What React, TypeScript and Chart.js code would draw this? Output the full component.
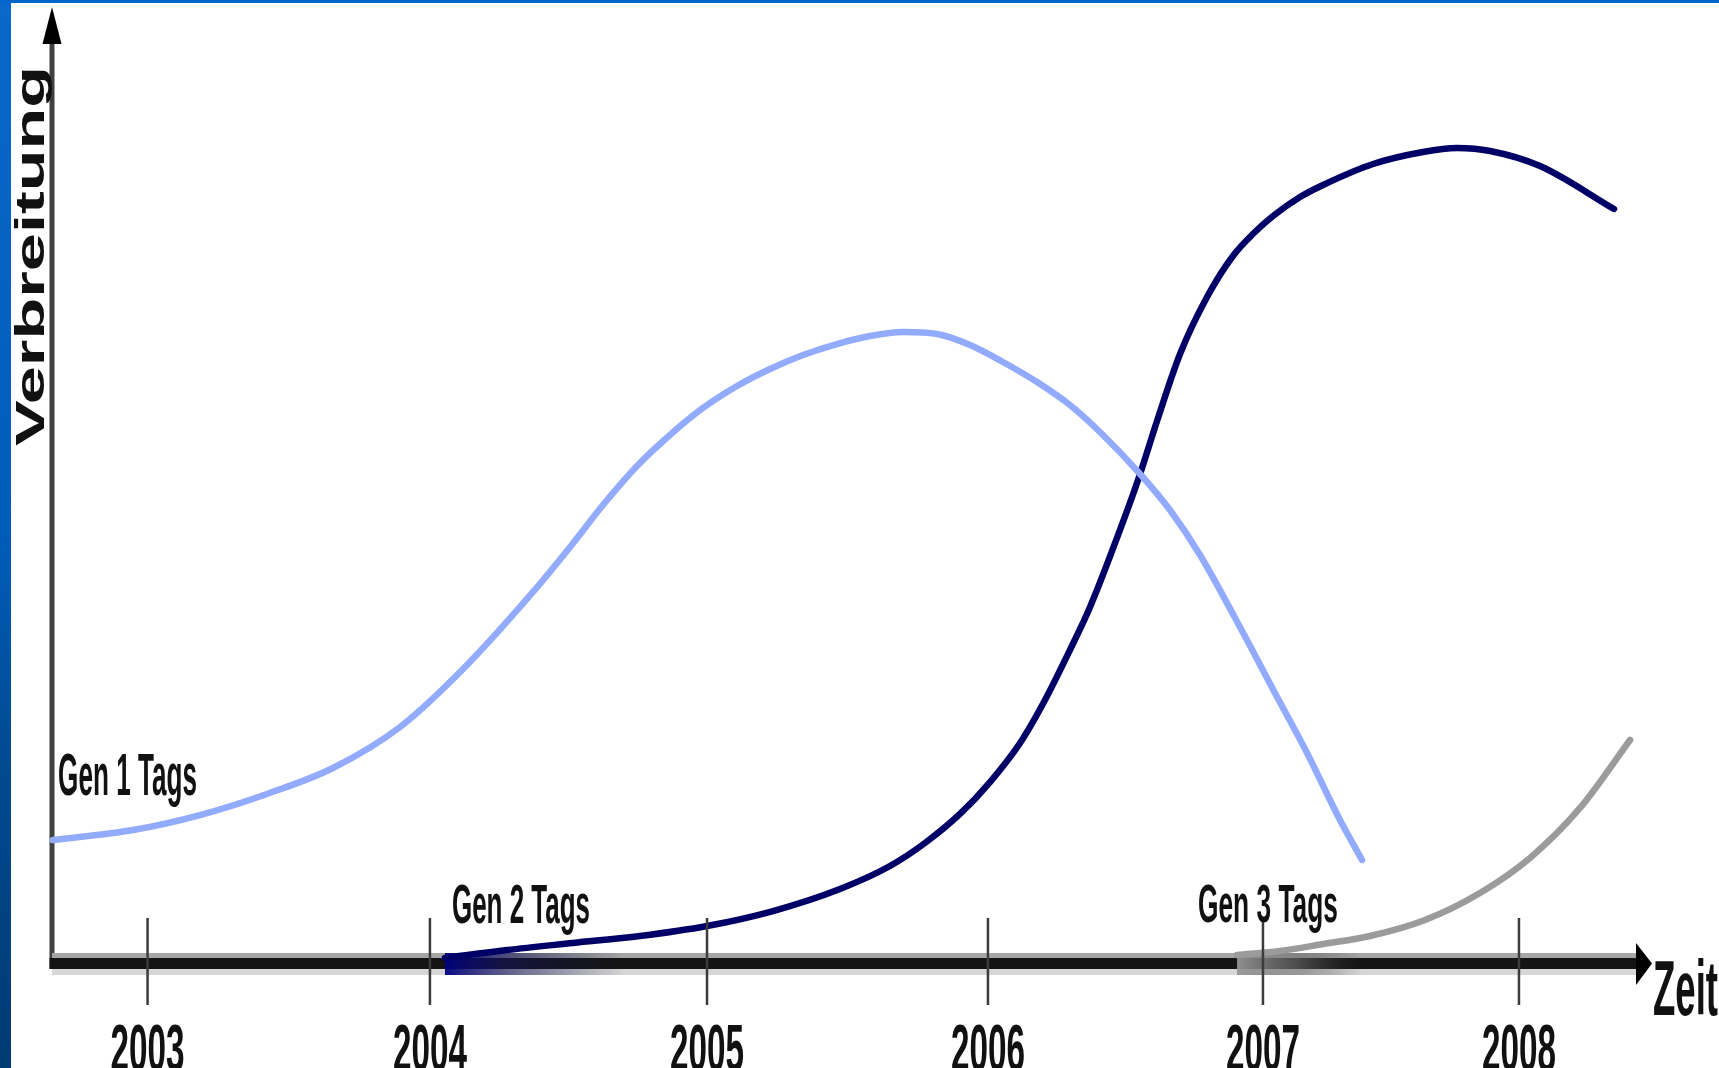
import { useEffect, useRef } from 'react';
import { Chart, registerables } from 'chart.js';

Chart.register(...registerables);

const W = 1719;
const H = 1068;

// x: position along the "Zeit" axis (0 = Verbreitung axis, 100 = arrow tip)
// y: "Verbreitung" (0 = time axis, 100 = arrow tip)
const gen1X = [0.06, 5.07, 9.26, 13.45, 17.58, 21.78, 25.97, 30.1, 32.42, 34.48, 36.61, 38.67, 40.74, 42.87, 44.93, 47.0, 49.12, 51.19, 53.25, 55.38, 57.45, 59.51, 61.64, 63.7, 65.58, 68.09, 69.96, 71.84, 74.34, 76.53, 78.54, 80.6, 81.98];
const gen1Y = [12.89, 13.94, 15.51, 17.72, 20.44, 24.74, 31.24, 38.89, 43.61, 48.01, 52.1, 55.35, 58.18, 60.48, 62.26, 63.73, 64.88, 65.72, 66.14, 65.93, 64.78, 63.0, 60.9, 58.49, 55.66, 51.26, 47.48, 42.77, 35.22, 28.3, 22.01, 14.99, 10.8];

const gen2X = [24.59, 28.47, 32.6, 36.8, 40.99, 45.12, 49.31, 52.44, 54.63, 56.82, 58.7, 60.58, 62.14, 63.7, 64.96, 67.02, 68.09, 69.15, 70.59, 72.28, 73.9, 75.28, 76.41, 78.1, 79.54, 82.67, 85.79, 87.92, 89.99, 93.12, 97.75];
const gen2Y = [0.52, 1.36, 2.1, 2.83, 3.88, 5.45, 7.76, 10.17, 12.58, 15.62, 18.97, 23.06, 27.57, 32.81, 37.32, 46.23, 51.26, 56.81, 63.84, 69.81, 74.11, 76.62, 78.3, 80.29, 81.55, 83.75, 85.01, 85.43, 85.12, 83.54, 79.04];

const gen3X = [74.16, 76.85, 79.54, 82.48, 85.92, 89.36, 92.49, 95.62, 98.75];
const gen3Y = [0.84, 1.26, 1.99, 2.83, 4.51, 7.34, 11.01, 16.25, 23.38];

const yearLabels = ['2003', '2004', '2005', '2006', '2007', '2008'];
const yearTickX = [5.98, 23.65, 40.99, 58.57, 75.78, 91.8];

const seriesNames = ['Gen 1 Tags', 'Gen 2 Tags', 'Gen 3 Tags'];
const seriesNameX = [0.38, 25.03, 71.71];
const seriesNameY = [17.6, 4.19, 4.3];

const xTitle = 'Zeit';
const yTitle = 'Verbreitung';

const FONT = "'Liberation Sans', Arial, sans-serif";

function fitText(
  ctx: CanvasRenderingContext2D,
  text: string,
  x: number,
  y: number,
  size: number,
  width: number,
  align: CanvasTextAlign,
  weight = 'bold'
) {
  ctx.save();
  ctx.font = `${weight} ${size}px ${FONT}`;
  const w = ctx.measureText(text).width;
  ctx.translate(x, y);
  ctx.scale(width / w, 1);
  ctx.textAlign = align;
  ctx.textBaseline = 'alphabetic';
  ctx.fillStyle = '#111';
  ctx.fillText(text, 0, 0);
  ctx.restore();
}

const toPts = (xs: number[], ys: number[]) => xs.map((v, i) => ({ x: v, y: ys[i] }));

const decor = {
  id: 'decor',
  beforeDraw(chart: any) {
    const ctx: CanvasRenderingContext2D = chart.ctx;
    ctx.save();
    ctx.fillStyle = '#ffffff';
    ctx.fillRect(0, 0, W, H);
    const g = ctx.createLinearGradient(0, 0, 0, H);
    g.addColorStop(0, '#0a68cc');
    g.addColorStop(0.5, '#005cb8');
    g.addColorStop(0.72, '#004a90');
    g.addColorStop(1, '#003a72');
    ctx.fillStyle = g;
    ctx.fillRect(0, 0, 11, H);
    ctx.fillStyle = '#0066cc';
    ctx.fillRect(0, 0, W, 3);
    ctx.restore();
  },
  beforeDatasetsDraw(chart: any) {
    const ctx: CanvasRenderingContext2D = chart.ctx;
    const { x, y } = chart.scales;
    const x0 = x.getPixelForValue(0);
    const y0 = y.getPixelForValue(0);
    const yTop = y.getPixelForValue(100);
    const xEnd = x.getPixelForValue(100) - 14;
    ctx.save();
    // vertical axis
    ctx.fillStyle = '#404040';
    ctx.fillRect(x0 - 2.5, yTop + 30, 5, y0 + 6 - (yTop + 30));
    // horizontal axis with its shading bands
    ctx.fillStyle = '#a6a6a6';
    ctx.fillRect(x0, y0 - 10, xEnd - x0, 5);
    ctx.fillStyle = '#d6d6d6';
    ctx.fillRect(x0, y0 + 6, xEnd - x0, 6);
    ctx.fillStyle = '#141414';
    ctx.fillRect(x0 - 2.5, y0 - 5, xEnd - x0 + 2.5, 11);
    // curve starts blending into the axis
    const s2 = x.getPixelForValue(gen2X[0]);
    const g2 = ctx.createLinearGradient(s2, 0, s2 + 180, 0);
    g2.addColorStop(0, 'rgba(0,0,128,0.95)');
    g2.addColorStop(0.35, 'rgba(20,20,90,0.6)');
    g2.addColorStop(1, 'rgba(20,20,60,0)');
    ctx.fillStyle = g2;
    ctx.fillRect(s2, y0 - 10, 180, 22);
    const s3 = x.getPixelForValue(gen3X[0]);
    const g3 = ctx.createLinearGradient(s3, 0, s3 + 125, 0);
    g3.addColorStop(0, 'rgba(150,150,150,0.95)');
    g3.addColorStop(0.5, 'rgba(110,110,110,0.6)');
    g3.addColorStop(1, 'rgba(60,60,60,0)');
    ctx.fillStyle = g3;
    ctx.fillRect(s3, y0 - 10, 125, 22);
    ctx.restore();
  },
  afterDatasetsDraw(chart: any) {
    const ctx: CanvasRenderingContext2D = chart.ctx;
    const { x, y } = chart.scales;
    const x0 = x.getPixelForValue(0);
    const y0 = y.getPixelForValue(0);
    const yTop = y.getPixelForValue(100);
    const xTip = x.getPixelForValue(100);
    ctx.save();
    // arrow heads
    ctx.fillStyle = '#000';
    ctx.beginPath();
    ctx.moveTo(x0, yTop - 2);
    ctx.lineTo(x0 - 9.5, yTop + 35);
    ctx.lineTo(x0 + 9.5, yTop + 35);
    ctx.closePath();
    ctx.fill();
    ctx.beginPath();
    ctx.moveTo(xTip + 2, y0 + 0.5);
    ctx.lineTo(xTip - 14, y0 - 20);
    ctx.lineTo(xTip - 14, y0 + 22);
    ctx.closePath();
    ctx.fill();
    // year ticks and labels
    ctx.strokeStyle = '#3c3c3c';
    ctx.lineWidth = 2.5;
    yearTickX.forEach((v, i) => {
      const px = x.getPixelForValue(v);
      ctx.beginPath();
      ctx.moveTo(px, y0 - 45);
      ctx.lineTo(px, y0 + 42);
      ctx.stroke();
      fitText(ctx, yearLabels[i], px, y0 + 108, 66, 74, 'center');
    });
    // series names
    const nameSizes = [60, 56, 54];
    const nameWidths = [139, 138, 140];
    seriesNames.forEach((n, i) => {
      fitText(ctx, n, x.getPixelForValue(seriesNameX[i]), y.getPixelForValue(seriesNameY[i]), nameSizes[i], nameWidths[i], 'left');
    });
    // axis titles
    fitText(ctx, xTitle, xTip + 3, y0 + 52, 77, 65, 'left');
    ctx.save();
    ctx.translate(x0 - 8.5, 446);
    ctx.rotate(-Math.PI / 2);
    fitText(ctx, yTitle, 0, 0, 40, 380, 'left', 'bold');
    ctx.restore();
    ctx.restore();
  },
};

export default function App() {
  const ref = useRef<HTMLCanvasElement | null>(null);
  useEffect(() => {
    document.body.style.margin = '0';
    document.body.style.overflow = 'hidden';
    const canvas = ref.current;
    if (!canvas) return;
    const common = {
      pointRadius: 0,
      borderWidth: 6.5,
      fill: false,
      cubicInterpolationMode: 'monotone' as const,
      borderCapStyle: 'round' as const,
      borderJoinStyle: 'round' as const,
      clip: false as const,
    };
    const chart = new Chart(canvas, {
      type: 'line',
      data: {
        datasets: [
          { ...common, label: seriesNames[0], data: toPts(gen1X, gen1Y), borderColor: '#92abff' },
          { ...common, label: seriesNames[2], data: toPts(gen3X, gen3Y), borderColor: '#9b9b9b' },
          { ...common, label: seriesNames[1], data: toPts(gen2X, gen2Y), borderColor: '#000066' },
        ],
      },
      options: {
        responsive: false,
        maintainAspectRatio: false,
        devicePixelRatio: 1,
        animation: false,
        layout: { padding: { left: 52, right: 69, top: 9, bottom: 105 } },
        scales: {
          x: { type: 'linear', min: 0, max: 100, display: false },
          y: { type: 'linear', min: 0, max: 100, display: false },
        },
        plugins: { legend: { display: false }, tooltip: { enabled: false }, title: { display: false } },
      },
      plugins: [decor],
    });
    return () => chart.destroy();
  }, []);
  return (
    <canvas
      ref={ref}
      width={W}
      height={H}
      style={{ position: 'fixed', left: 0, top: 0, width: W, height: H, display: 'block' }}
    />
  );
}
